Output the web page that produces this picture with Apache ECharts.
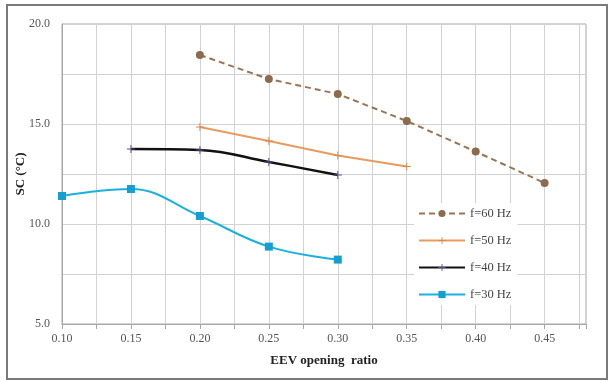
<!DOCTYPE html>
<html><head><meta charset="utf-8">
<script src="https://cdn.jsdelivr.net/npm/echarts@6/dist/echarts.min.js"></script>
<style>html,body{margin:0;padding:0;background:#fff}#c{width:611px;height:381px}</style>
</head><body><div id="c"></div>
<script>
const x60 = [0.20, 0.25, 0.30, 0.35, 0.40, 0.45];
const y60 = [18.45, 17.25, 16.5, 15.15, 13.62, 12.05];
const x50 = [0.20, 0.25, 0.30, 0.35];
const y50 = [14.85, 14.15, 13.42, 12.88];
const x40 = [0.15, 0.20, 0.25, 0.30];
const y40 = [13.75, 13.7, 13.1, 12.45];
const x30 = [0.10, 0.15, 0.20, 0.25, 0.30];
const y30 = [11.4, 11.75, 10.4, 8.87, 8.22];
const seriesNames = ['f=60 Hz', 'f=50 Hz', 'f=40 Hz', 'f=30 Hz'];
const yTicks = [5, 10, 15, 20];
const xTicks = [0.10, 0.15, 0.20, 0.25, 0.30, 0.35, 0.40, 0.45];

const pair = (xs, ys) => xs.map((x, i) => [x, ys[i]]);
const plus = 'path://M-1,-0.12H1V0.12H-1Z M-0.12,-1H0.12V1H-0.12Z';
const serif = 'Liberation Serif';

const chart = echarts.init(document.getElementById('c'));
chart.setOption({
  animation: false,
  backgroundColor: '#fff',
  textStyle: { fontFamily: serif },
  graphic: [{
    type: 'rect', shape: { x: 7, y: 5, width: 600, height: 374 },
    style: { fill: 'none', stroke: '#7a7a7a', lineWidth: 2 }, z: 100
  }],
  grid: { left: 62, right: 25, top: 24, bottom: 57, show: true, borderColor: '#a8a8a8', borderWidth: 1,
          containLabel: false, outerBoundsMode: 'none' },
  legend: {
    orient: 'vertical', left: 414, top: 203, itemGap: 14, itemWidth: 46, itemHeight: 9,
    backgroundColor: '#fff', padding: [4, 6, 4, 4],
    data: seriesNames,
    textStyle: { fontFamily: serif, fontSize: 12.5, color: '#444' }
  },
  xAxis: {
    type: 'value', min: 0.10, max: 0.48, interval: 0.05,
    name: 'EEV opening  ratio', nameLocation: 'middle', nameGap: 30,
    nameTextStyle: { fontFamily: serif, fontWeight: 'bold', fontSize: 13, color: '#222' },
    axisLine: { show: true, lineStyle: { color: '#a8a8a8' } },
    axisTick: { show: true, length: 5, inside: false, lineStyle: { color: '#a8a8a8' } },
    minorTick: { show: true, splitNumber: 2, length: 5, lineStyle: { color: '#a8a8a8' } },
    axisLabel: {
      color: '#555', fontSize: 12, margin: 9,
      formatter: v => xTicks.some(t => Math.abs(t - v) < 1e-9) ? v.toFixed(2) : ''
    },
    splitLine: { show: true, lineStyle: { color: '#d2d2d2' } },
    minorSplitLine: { show: true, lineStyle: { color: '#d2d2d2' } }
  },
  yAxis: {
    type: 'value', min: 5, max: 20, interval: 5,
    name: 'SC (°C)', nameLocation: 'middle', nameGap: 35, nameRotate: 90, nameMoveOverlap: false,
    nameTextStyle: { fontFamily: serif, fontWeight: 'bold', fontSize: 13, color: '#222' },
    axisLine: { show: true, lineStyle: { color: '#a8a8a8' } },
    axisTick: { show: false },
    axisLabel: {
      color: '#555', fontSize: 12, margin: 12,
      formatter: v => yTicks.includes(v) ? v.toFixed(1) : ''
    },
    splitLine: { show: true, lineStyle: { color: '#d2d2d2' } },
    minorSplitLine: { show: true, lineStyle: { color: '#d2d2d2' } },
    minorTick: { show: false, splitNumber: 2 }
  },
  series: [
    {
      name: seriesNames[0], type: 'line', data: pair(x60, y60),
      symbol: 'circle', symbolSize: 8,
      lineStyle: { color: '#9a7455', width: 2, type: [6, 4] },
      itemStyle: { color: '#8c6a4e' }
    },
    {
      name: seriesNames[1], type: 'line', data: pair(x50, y50),
      symbol: plus, symbolSize: 8,
      lineStyle: { color: '#e79b5f', width: 2 },
      itemStyle: { color: '#d88a50' }
    },
    {
      name: seriesNames[2], type: 'line', data: pair(x40, y40), smooth: 0.4,
      symbol: plus, symbolSize: 8,
      lineStyle: { color: '#111', width: 2.5 },
      itemStyle: { color: '#5a4c8a' }
    },
    {
      name: seriesNames[3], type: 'line', data: pair(x30, y30), smooth: 0.4,
      symbol: 'rect', symbolSize: 8,
      lineStyle: { color: '#1cb0e0', width: 2 },
      itemStyle: { color: '#159fd0' }
    }
  ]
});
</script></body></html>
